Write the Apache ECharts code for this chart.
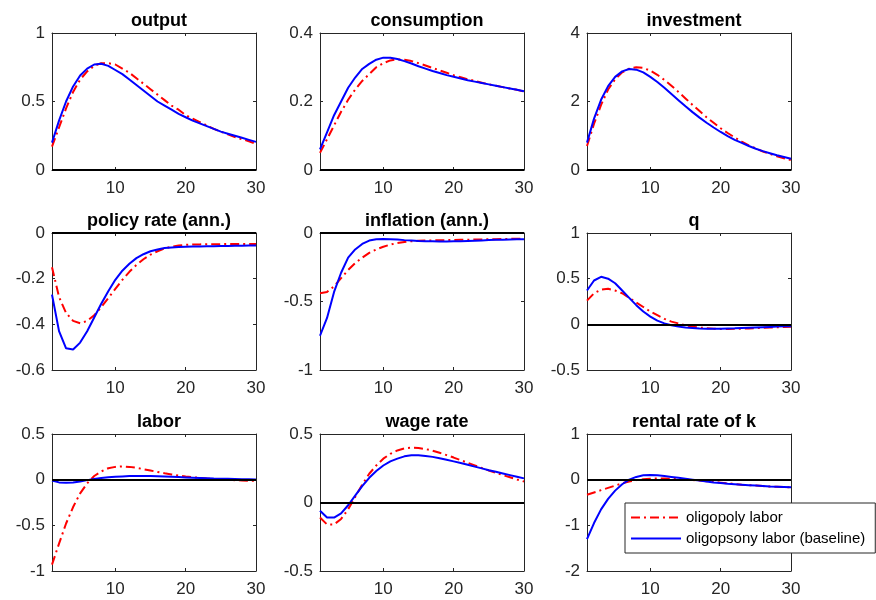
<!DOCTYPE html>
<html>
<head>
<meta charset="utf-8">
<script src="https://cdn.jsdelivr.net/npm/echarts@6/dist/echarts.min.js"></script>
<style>
html, body { margin: 0; padding: 0; background: #fff; }
#main { width: 876px; height: 600px; }
</style>
</head>
<body>
<div id="main"></div>
<script>
// periods (quarters)
var periods = [1,2,3,4,5,6,7,8,9,10,11,12,13,14,15,16,17,18,19,20,21,22,23,24,25,26,27,28,29,30];

var titles = ['output', 'consumption', 'investment',
	'policy rate (ann.)', 'inflation (ann.)', 'q',
	'labor', 'wage rate', 'rental rate of k'];

// y tick labels per panel
var yTicks = [
	[0, 0.5, 1], [0, 0.2, 0.4], [0, 2, 4],
	[-0.6, -0.4, -0.2, 0], [-1, -0.5, 0], [-0.5, 0, 0.5, 1],
	[-1, -0.5, 0, 0.5], [-0.5, 0, 0.5], [-2, -1, 0, 1]
];
var xTicks = [10, 20, 30];

// oligopoly labor (red, dash-dot)
var outputOligopoly = [0.17,0.31,0.45,0.57,0.66,0.72,0.76,0.78,0.78,0.77,0.74,0.71,0.67,0.63,0.59,0.55,0.51,0.47,0.44,0.40,0.375,0.35,0.325,0.30,0.28,0.26,0.24,0.225,0.21,0.19];
var consOligopoly = [0.05,0.09,0.13,0.17,0.205,0.235,0.26,0.28,0.30,0.312,0.320,0.323,0.322,0.318,0.312,0.305,0.298,0.291,0.284,0.277,0.271,0.265,0.260,0.255,0.250,0.246,0.242,0.238,0.234,0.229];
var invOligopoly = [0.7,1.35,1.9,2.35,2.65,2.85,2.96,3.0,2.98,2.90,2.78,2.63,2.46,2.28,2.09,1.90,1.72,1.54,1.38,1.22,1.08,0.95,0.83,0.72,0.63,0.54,0.47,0.40,0.34,0.29];
var rateOligopoly = [-0.15,-0.28,-0.35,-0.385,-0.395,-0.385,-0.36,-0.325,-0.285,-0.245,-0.205,-0.17,-0.14,-0.115,-0.095,-0.08,-0.068,-0.06,-0.055,-0.052,-0.05,-0.05,-0.049,-0.049,-0.049,-0.048,-0.048,-0.048,-0.048,-0.048];
var inflOligopoly = [-0.44,-0.43,-0.39,-0.33,-0.27,-0.22,-0.18,-0.145,-0.12,-0.10,-0.085,-0.073,-0.065,-0.06,-0.057,-0.055,-0.054,-0.053,-0.052,-0.051,-0.05,-0.049,-0.048,-0.047,-0.046,-0.045,-0.044,-0.043,-0.042,-0.041];
var qOligopoly = [0.26,0.34,0.38,0.39,0.37,0.34,0.29,0.24,0.19,0.14,0.10,0.06,0.03,0.01,-0.01,-0.025,-0.035,-0.042,-0.047,-0.05,-0.05,-0.049,-0.047,-0.045,-0.042,-0.039,-0.036,-0.033,-0.03,-0.027];
var laborOligopoly = [-0.93,-0.70,-0.48,-0.30,-0.15,-0.04,0.04,0.09,0.125,0.14,0.145,0.14,0.13,0.115,0.10,0.085,0.07,0.057,0.045,0.035,0.027,0.02,0.013,0.008,0.003,-0.002,-0.006,-0.009,-0.011,-0.013];
var wageOligopoly = [-0.11,-0.16,-0.16,-0.12,-0.05,0.04,0.13,0.21,0.27,0.32,0.355,0.38,0.395,0.40,0.398,0.39,0.378,0.363,0.346,0.328,0.309,0.29,0.271,0.252,0.234,0.217,0.2,0.184,0.168,0.153];
var rentOligopoly = [-0.33,-0.28,-0.23,-0.18,-0.13,-0.08,-0.04,-0.01,0.01,0.02,0.025,0.025,0.02,0.012,0.003,-0.008,-0.02,-0.035,-0.05,-0.065,-0.08,-0.095,-0.11,-0.12,-0.13,-0.14,-0.15,-0.155,-0.16,-0.17];

// oligopsony labor (baseline) (blue, solid)
var outputOligopsony = [0.20,0.36,0.50,0.61,0.69,0.74,0.77,0.775,0.76,0.73,0.70,0.66,0.62,0.58,0.54,0.50,0.47,0.44,0.41,0.385,0.36,0.34,0.32,0.30,0.28,0.265,0.25,0.235,0.22,0.205];
var consOligopsony = [0.06,0.11,0.16,0.20,0.24,0.27,0.295,0.31,0.322,0.328,0.328,0.324,0.318,0.311,0.303,0.296,0.289,0.283,0.277,0.272,0.267,0.262,0.258,0.254,0.250,0.246,0.242,0.238,0.234,0.230];
var invOligopsony = [0.8,1.5,2.05,2.45,2.72,2.88,2.95,2.93,2.85,2.72,2.57,2.40,2.22,2.04,1.86,1.69,1.53,1.38,1.24,1.11,0.99,0.88,0.79,0.70,0.62,0.55,0.49,0.43,0.38,0.33];
var rateOligopsony = [-0.27,-0.43,-0.505,-0.51,-0.48,-0.43,-0.37,-0.31,-0.255,-0.205,-0.165,-0.135,-0.11,-0.093,-0.08,-0.072,-0.066,-0.063,-0.061,-0.06,-0.059,-0.059,-0.058,-0.058,-0.057,-0.057,-0.056,-0.056,-0.055,-0.055];
var inflOligopsony = [-0.75,-0.62,-0.43,-0.29,-0.18,-0.12,-0.08,-0.055,-0.045,-0.043,-0.045,-0.048,-0.052,-0.055,-0.058,-0.06,-0.061,-0.062,-0.062,-0.061,-0.06,-0.058,-0.056,-0.054,-0.052,-0.05,-0.049,-0.047,-0.046,-0.045];
var qOligopsony = [0.37,0.48,0.52,0.50,0.45,0.37,0.29,0.21,0.14,0.085,0.04,0.01,-0.01,-0.025,-0.035,-0.04,-0.045,-0.048,-0.048,-0.047,-0.045,-0.043,-0.04,-0.037,-0.034,-0.031,-0.028,-0.025,-0.022,-0.02];
var laborOligopsony = [-0.01,-0.03,-0.035,-0.03,-0.02,-0.005,0.008,0.018,0.026,0.032,0.036,0.039,0.04,0.04,0.039,0.037,0.034,0.031,0.028,0.025,0.022,0.019,0.016,0.013,0.011,0.009,0.007,0.005,0.004,0.003];
var wageOligopsony = [-0.06,-0.11,-0.11,-0.08,-0.02,0.05,0.12,0.18,0.23,0.27,0.30,0.32,0.337,0.345,0.345,0.34,0.333,0.323,0.312,0.30,0.288,0.275,0.262,0.249,0.236,0.224,0.212,0.2,0.188,0.176];
var rentOligopsony = [-1.3,-0.95,-0.65,-0.42,-0.24,-0.1,0.0,0.06,0.095,0.1,0.095,0.08,0.06,0.04,0.02,0.0,-0.02,-0.04,-0.06,-0.075,-0.09,-0.1,-0.11,-0.12,-0.13,-0.14,-0.15,-0.155,-0.16,-0.165];

var redSeries = [outputOligopoly, consOligopoly, invOligopoly, rateOligopoly, inflOligopoly, qOligopoly, laborOligopoly, wageOligopoly, rentOligopoly];
var blueSeries = [outputOligopsony, consOligopsony, invOligopsony, rateOligopsony, inflOligopsony, qOligopsony, laborOligopsony, wageOligopsony, rentOligopsony];

var colLeft = [52, 320, 587];
var rowTop = [33, 233, 434];
var gridW = 204, gridH = 137;
var axisColor = '#262626';
var fontFam = '"Liberation Sans", Arial, Helvetica, sans-serif';

function pairs(ys){
	var out = [];
	for (var i = 0; i < periods.length; i++){
		out.push([periods[i], ys[i]]);
	}
	return out;
}

var grids = [], xAxes = [], yAxes = [], series = [], titleList = [];

for (var i = 0; i < 9; i++){
	var gLeft = colLeft[i % 3], gTop = rowTop[Math.floor(i / 3)]; // 'top' is window.top, don't use it
	var ticks = yTicks[i];
	var ymin = ticks[0], ymax = ticks[ticks.length - 1];
	var yint = Math.round((ticks[1] - ticks[0]) * 1000) / 1000;
	grids.push({ left: gLeft, top: gTop, width: gridW, height: gridH });

	titleList.push({
		text: titles[i],
		left: gLeft + gridW / 2,
		top: gTop - 26,
		textAlign: 'center',
		textStyle: { fontFamily: fontFam, fontSize: 18, fontWeight: 'bold', color: '#000' }
	});

	// bottom + top x axes (box with inside ticks, like matlab)
	xAxes.push({
		type: 'value', gridIndex: i, min: 1, max: 30, position: 'bottom',
		axisLine: { show: true, onZero: false, lineStyle: { color: axisColor, width: 1 } },
		axisTick: { show: true, inside: true, length: 3, customValues: xTicks.slice(), lineStyle: { color: axisColor } },
		axisLabel: { show: true, customValues: xTicks.slice(), margin: 10, color: axisColor, fontSize: 17, fontFamily: fontFam },
		splitLine: { show: false }
	});
	xAxes.push({
		type: 'value', gridIndex: i, min: 1, max: 30, position: 'top',
		axisLine: { show: true, onZero: false, lineStyle: { color: axisColor, width: 1 } },
		axisTick: { show: true, inside: true, length: 3, customValues: xTicks.slice(), lineStyle: { color: axisColor } },
		axisLabel: { show: false, customValues: xTicks.slice() },
		splitLine: { show: false }
	});
	// left + right y axes
	yAxes.push({
		type: 'value', gridIndex: i, min: ymin, max: ymax, interval: yint, position: 'left',
		axisLine: { show: true, onZero: false, lineStyle: { color: axisColor, width: 1 } },
		axisTick: { show: true, inside: true, length: 3, lineStyle: { color: axisColor } },
		axisLabel: { show: true, margin: 7, color: axisColor, fontSize: 17, fontFamily: fontFam },
		splitLine: { show: false }
	});
	yAxes.push({
		type: 'value', gridIndex: i, min: ymin, max: ymax, interval: yint, position: 'right',
		axisLine: { show: true, onZero: false, lineStyle: { color: axisColor, width: 1 } },
		axisTick: { show: true, inside: true, length: 3, lineStyle: { color: axisColor } },
		axisLabel: { show: false },
		splitLine: { show: false }
	});

	series.push({
		name: 'oligopoly labor', type: 'line',
		xAxisIndex: 2 * i, yAxisIndex: 2 * i,
		data: pairs(redSeries[i]),
		showSymbol: false, symbol: 'none',
		lineStyle: { color: '#ff0000', width: 2, type: [9, 4, 2, 4] },
		itemStyle: { color: '#ff0000' },
		z: 2
	});
	series.push({
		name: 'oligopsony labor (baseline)', type: 'line',
		xAxisIndex: 2 * i, yAxisIndex: 2 * i,
		data: pairs(blueSeries[i]),
		showSymbol: false, symbol: 'none',
		lineStyle: { color: '#0000ff', width: 2 },
		itemStyle: { color: '#0000ff' },
		z: 3,
		markLine: {
			silent: true, symbol: 'none', label: { show: false },
			lineStyle: { color: '#000', width: 2, type: 'solid' },
			data: [{ yAxis: 0 }]
		}
	});
}

var option = {
	animation: false,
	backgroundColor: '#fff',
	title: titleList,
	grid: grids,
	xAxis: xAxes,
	yAxis: yAxes,
	legend: {
		data: ['oligopoly labor', 'oligopsony labor (baseline)'],
		orient: 'vertical',
		left: 625, top: 503,
		padding: [7, 10, 7, 5],
		itemWidth: 50, itemHeight: 14, itemGap: 6,
		itemStyle: { opacity: 0 },
		borderColor: axisColor, borderWidth: 1,
		backgroundColor: '#fff',
		textStyle: { fontFamily: fontFam, fontSize: 15, color: '#000' },
		z: 10
	},
	series: series
};

var chart = echarts.init(document.getElementById('main'), null, { renderer: 'canvas' });
chart.setOption(option);
</script>
</body>
</html>
